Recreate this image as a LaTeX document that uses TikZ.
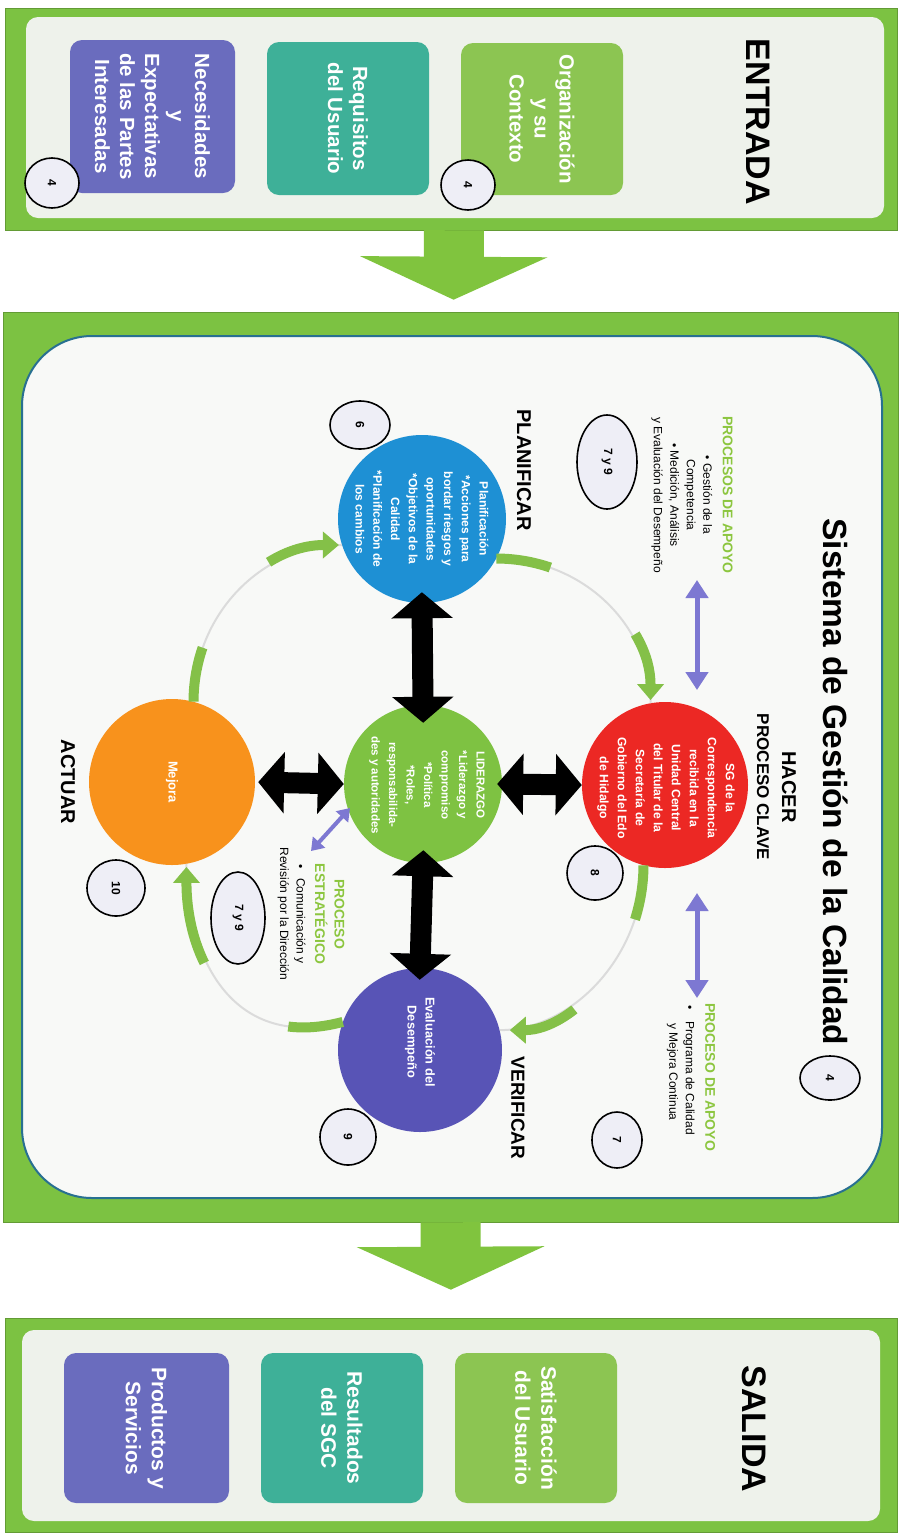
\documentclass[tikz,border=0pt]{standalone}
\usepackage{fontspec}
\setmainfont{Liberation Sans}
\usetikzlibrary{arrows.meta,shapes.geometric,calc}
\newcommand{\fsz}[2]{\fontsize{#1}{#2}\selectfont}
\definecolor{gborder}{RGB}{124,194,66}
\definecolor{ginner}{RGB}{238,242,235}
\definecolor{mainfill}{RGB}{248,249,247}
\definecolor{panelline}{RGB}{40,112,145}
\definecolor{boxgreen}{RGB}{140,197,82}
\definecolor{boxteal}{RGB}{62,176,152}
\definecolor{boxpurple}{RGB}{106,108,190}
\definecolor{cblue}{RGB}{30,144,212}
\definecolor{cred}{RGB}{236,40,36}
\definecolor{cgreen}{RGB}{126,194,66}
\definecolor{corange}{RGB}{248,146,28}
\definecolor{cindigo}{RGB}{88,84,182}
\definecolor{procgreen}{RGB}{140,198,63}
\definecolor{arrowgreen}{RGB}{128,196,62}
\definecolor{cyclegreen}{RGB}{132,192,72}
\definecolor{purparr}{RGB}{125,120,210}
\definecolor{badgefill}{RGB}{238,238,246}
\begin{document}
\begin{tikzpicture}[x=1pt,y=1pt,
  panel/.style={rectangle, fill=gborder, draw=gborder!80!black, line width=0.6pt, inner sep=0pt},
  ipanel/.style={rectangle, fill=ginner, rounded corners=12pt, inner sep=0pt},
  ebox/.style={rectangle, rounded corners=12pt, inner sep=0pt, text=white, align=center, rotate=-90, font=\bfseries\fsz{20.5}{25}},
  badge/.style={ellipse, draw=black, line width=1.6pt, fill=badgefill, inner sep=0pt, rotate=-90, font=\bfseries\fsz{12}{14}},
  circ/.style={circle, inner sep=0pt},
  ctext/.style={rotate=-90, text=white, align=center, inner sep=0pt},
  head/.style={rotate=-90, font=\bfseries\fsz{34}{40}, inner sep=0pt},
  phase/.style={rotate=-90, font=\bfseries\fsz{20}{24}, inner sep=0pt},
  proc/.style={rotate=-90, inner sep=0pt, font=\fsz{12}{16.5}},
  blk/.style={line width=21pt, {Triangle[width=60pt,length=26pt]}-{Triangle[width=60pt,length=26pt]}},
  bigdown/.style={line width=60pt, draw=arrowgreen, -{Triangle[width=186pt,length=43pt]}},
  purp/.style={line width=5pt, draw=purparr, {Triangle[width=22pt,length=18pt]}-{Triangle[width=22pt,length=18pt]}},
  cycthin/.style={draw=gray!28, line width=2pt},
  cycband/.style={draw=cyclegreen, line width=10pt, dash pattern=on 55pt off 110pt on 400pt, -{Triangle[width=26pt,length=16pt]}, shorten >=3pt},
]
\useasboundingbox (0,0) rectangle (909,-1535);
\fill[white] (0,0) rectangle (909,-1535);

% ---------- panels ----------
\node[panel, minimum width=892pt, minimum height=222pt] (entrada) at (451,-119) {};
\node[ipanel, minimum width=858pt, minimum height=201pt] (entradain) at (455,-117.5) {};
\node[panel, minimum width=895pt, minimum height=910pt] (sistema) at (450.5,-767) {};
\node[rectangle, rounded corners=70pt, draw=panelline, line width=2pt, fill=mainfill, inner sep=0pt,
      minimum width=860pt, minimum height=862pt] (sistemain) at (452,-767) {};
\node[panel, minimum width=892pt, minimum height=214pt] (salida) at (451,-1425) {};
\node[ipanel, minimum width=858pt, minimum height=191pt] (salidain) at (451,-1425.5) {};

\draw[bigdown, shorten >=12pt] ([xshift=3pt]entrada.south) -- ([xshift=3pt]sistema.north);
\draw[bigdown, shorten >=28pt] (sistema.south) -- (salida.north);

% ---------- ENTRADA ----------
\node[head] (tentrada) at (758,-122) {ENTRADA};
\node[ebox, fill=boxgreen, minimum width=152pt, minimum height=162pt] (e1) at (542,-119) {Organización\\y su\\Contexto};
\node[ebox, fill=boxteal, minimum width=153pt, minimum height=162pt] (e2) at (348,-118.5) {Requisitos\\del Usuario};
\node[ebox, fill=boxpurple, minimum width=153pt, minimum height=165pt] (e3) at (152.5,-116.5) {Necesidades\\y\\Expectativas\\de las Partes\\Interesadas};
\node[badge, minimum width=50pt, minimum height=54pt] (b1) at (468,-185) {4};
\node[badge, minimum width=50pt, minimum height=54pt] (b2) at (52,-183) {4};

% ---------- SALIDA ----------
\node[head] (tsalida) at (754,-1429) {SALIDA};
\node[ebox, fill=boxgreen, minimum width=150pt, minimum height=162pt, font=\bfseries\fsz{21}{26}] (s1) at (536,-1428) {Satisfacción\\del Usuario};
\node[ebox, fill=boxteal, minimum width=150pt, minimum height=162pt, font=\bfseries\fsz{21}{26}] (s2) at (342,-1428) {Resultados\\del SGC};
\node[ebox, fill=boxpurple, minimum width=150pt, minimum height=165pt, font=\bfseries\fsz{21}{26}] (s3) at (146.5,-1428) {Productos y\\Servicios};

% ---------- main titles ----------
\node[head, font=\bfseries\fsz{33.5}{40}] (title) at (836,-782) {Sistema de Gestión de la Calidad};
\node[badge, minimum width=44pt, minimum height=60pt] (b4) at (830,-1078) {4};
\node[phase] (hacer) at (789,-787) {HACER};
\node[phase, font=\bfseries\fsz{17}{20}] (clave) at (763,-787) {PROCESO CLAVE};
\node[phase] (planificar) at (524,-470) {PLANIFICAR};
\node[phase, font=\bfseries\fsz{19}{22}] (verificar) at (518,-1108) {VERIFICAR};
\node[phase] (actuar) at (68,-782) {ACTUAR};

% ---------- process texts ----------
\node[proc, align=center] (apoyoL) at (692,-495)
  {{\bfseries\color{procgreen}\fsz{14}{16.5}PROCESOS DE APOYO}\\[3pt]
   • Gestión de la\\ Competencia\\ • Medición, Análisis\\ y Evaluación del Desempeño};
\node[proc, align=left] (apoyoR) at (691,-1077)
  {{\bfseries\color{procgreen}\fsz{14}{16.5}PROCESO DE APOYO}\\[3pt]
   \hspace*{2pt}•\hspace{12pt}Programa de Calidad\\ \hspace*{20pt}y Mejora Continua};
\node[proc, align=center] (estrat) at (311,-914)
  {{\bfseries\color{procgreen}\fsz{14}{16.5}PROCESO}\\[3pt]
   {\bfseries\color{procgreen}\fsz{14}{16.5}ESTRATÉGICO}\\[2pt]
   • \hspace{6pt}Comunicación y\\ Revisión por la Dirección};

% ---------- badges in main ----------
\node[badge, minimum width=94pt, minimum height=60pt] (b79a) at (607,-462) {7 y 9};
\node[badge, minimum width=48pt, minimum height=60pt] (b6) at (360,-425) {6};
\node[badge, minimum width=54pt, minimum height=56pt] (b8) at (595,-873) {8};
\node[badge, minimum width=56pt, minimum height=50pt] (b7) at (617,-1140) {7};
\node[badge, minimum width=56pt, minimum height=56pt] (b9) at (348,-1137) {9};
\node[badge, minimum width=56pt, minimum height=58pt] (b10) at (116,-888) {10};
\node[badge, minimum width=92pt, minimum height=54pt] (b79b) at (238,-918) {7 y 9};

% ---------- circles ----------
\node[circ, fill=cblue, minimum size=168pt] (P) at (422,-519) {};
\node[circ, fill=cred, minimum size=166pt] (H) at (665,-785) {};
\node[circ, fill=cgreen, minimum size=158pt] (L) at (423,-784) {};
\node[circ, fill=corange, minimum size=166pt] (A) at (172,-782) {};
\node[circ, fill=cindigo, minimum size=164pt] (V) at (420,-1050) {};

% ---------- cycle arrows ----------
\draw[cycthin] (P.-28) .. controls +(0:86) and +(90:78) .. (H.100);
\draw[cycband] (P.-28) .. controls +(0:86) and +(90:78) .. (H.100);
\draw[cycthin] (H.-105) .. controls +(-90:90) and +(0:73) .. (V.14);
\draw[cycband, shorten >=10pt] (H.-105) .. controls +(-90:90) and +(0:73) .. (V.14);
\draw[cycthin] (V.160) .. controls +(195:110) and +(-90:100) .. (A.-80);
\draw[cycband] (V.160) .. controls +(195:110) and +(-90:100) .. (A.-80);
\draw[cycthin] (A.75) .. controls +(90:86) and +(180:81) .. (P.198);
\draw[cycband] (A.75) .. controls +(90:86) and +(180:81) .. (P.198);

% ---------- black double arrows ----------
\draw[blk, shorten <=-11pt, shorten >=-18pt] (P.south) -- (L.north);
\draw[blk, shorten <=-5pt] (L.east) -- (H.west);
\draw[blk, shorten <=3pt] (A.east) -- (L.west);
\draw[blk, shorten <=-13pt, shorten >=-12pt] (L.south) -- (V.north);

% ---------- purple arrows ----------
\coordinate (pa1) at (697,-580);
\coordinate (pa2) at (697,-690);
\draw[purp] (pa1) -- (pa2);
\coordinate (pb1) at (697,-893);
\coordinate (pb2) at (697,-998);
\draw[purp] (pb1) -- (pb2);
\coordinate (pc1) at (350,-808);
\coordinate (pc2) at (311,-851);
\draw[purp, line width=4pt, {Triangle[width=16pt,length=12pt]}-{Triangle[width=16pt,length=12pt]}] (pc1) -- (pc2);

% ---------- circle texts ----------
\node[ctext, font=\bfseries\fsz{12}{17.7}] (Pt) at (P) {Planificación\\*Acciones para\\bordar riesgos y\\oportunidades\\*Objetivos de la\\Calidad\\*Planificación de\\los cambios};
\node[ctext, font=\bfseries\fsz{12.2}{18}] (Ht) at ($(H)+(1,-3)$) {SG de la\\Correspondencia\\recibida en la\\Unidad Central\\del Titular de la\\Secretaría de\\Gobierno del Edo\\de Hidalgo};
\node[ctext, font=\bfseries\fsz{11.5}{17.5}] (Lt) at ($(L)+(4,-1)$) {LIDERAZGO\\*Liderazgo y\\compromiso\\*Política\\*Roles,\\responsabilida-\\des y autoridades};
\node[ctext, font=\bfseries\fsz{13}{16}] (At) at (A) {Mejora};
\node[ctext, font=\bfseries\fsz{12.8}{18}] (Vt) at ($(V)+(0,8)$) {Evaluación del\\Desempeño};

\end{tikzpicture}
\end{document}
